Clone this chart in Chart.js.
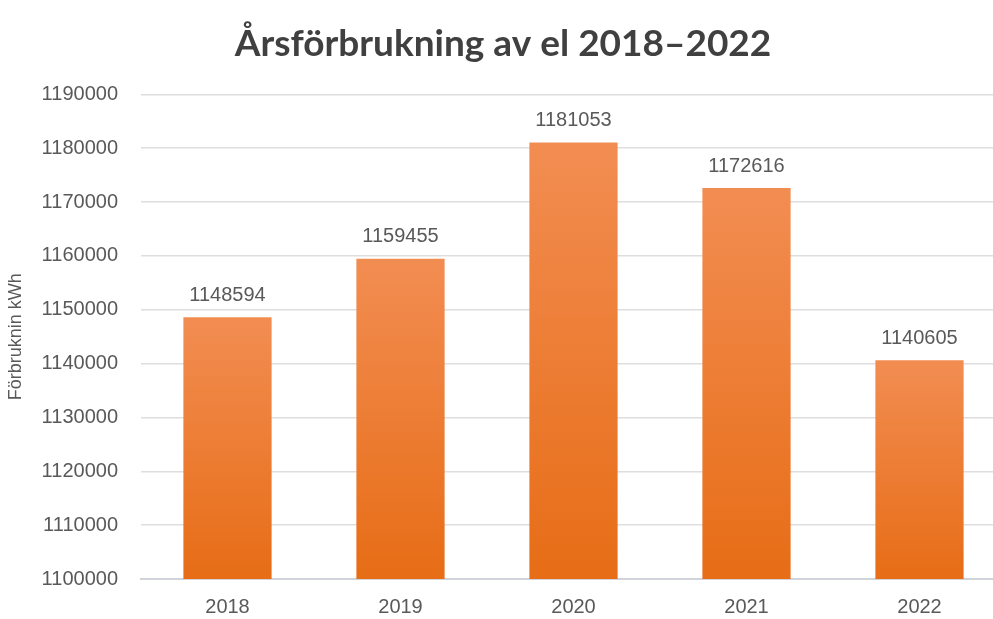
<!DOCTYPE html>
<html>
<head>
<meta charset="utf-8">
<script src="https://cdn.jsdelivr.net/npm/chart.js@4/dist/chart.umd.min.js"></script>
<style>
  html, body { margin: 0; padding: 0; background: #fff; overflow: hidden; }
  #wrap { width: 1006px; height: 619px; }
</style>
</head>
<body>
<div id="wrap"><canvas id="elChart"></canvas></div>
<script>
const years = ["2018", "2019", "2020", "2021", "2022"];
const consumption = [1148594, 1159455, 1181053, 1172616, 1140605];
const yMin = 1100000;
const yMax = 1190000;
const yStep = 10000;

const textGray = "#595959";
const font = "'Liberation Sans', Arial, sans-serif";

// gradient per bar, lighter at the top
function barFill(context) {
  const chart = context.chart;
  if (!chart.chartArea || context.raw === undefined) return "#EE7D35";
  const y = chart.scales.y;
  const top = y.getPixelForValue(context.raw);
  const bottom = y.getPixelForValue(yMin);
  const g = chart.ctx.createLinearGradient(0, top, 0, bottom);
  g.addColorStop(0, "#F28D52");
  g.addColorStop(1, "#E76D16");
  return g;
}

// value text above each bar
const valueLabels = {
  id: "valueLabels",
  afterDatasetsDraw(chart) {
    const ctx = chart.ctx;
    const meta = chart.getDatasetMeta(0);
    ctx.save();
    ctx.font = "20px " + font;
    ctx.fillStyle = textGray;
    ctx.textAlign = "center";
    ctx.textBaseline = "middle";
    meta.data.forEach((bar, i) => {
      ctx.fillText(String(consumption[i]), bar.x, bar.y - 22);
    });
    ctx.restore();
  }
};

const data1 = {
  labels: years,
  datasets: [
    {
      data: consumption,
      backgroundColor: barFill,
      borderWidth: 0,
      categoryPercentage: 1,
      barPercentage: 0.51,
    },
  ],
};

const config1 = {
  type: "bar",
  data: data1,
  plugins: [valueLabels],
  options: {
    responsive: true,
    maintainAspectRatio: false,
    animation: false,
    layout: { padding: 0 },
    plugins: {
      legend: { display: false },
      tooltip: { enabled: false },
      title: {
        display: true,
        text: "Årsförbrukning av el 2018–2022",
        color: "#404040",
        font: { family: "Lato, sans-serif", size: 37, weight: "bold" },
        padding: { top: 22, bottom: 28 },
      },
    },
    scales: {
      x: {
        afterFit(scale) { scale.height = 40; },
        grid: { display: false, drawTicks: false },
        border: { display: true, color: "#D0D4DA", width: 2 },
        ticks: { color: textGray, font: { family: font, size: 20 }, padding: 16 },
      },
      y: {
        min: yMin,
        max: yMax,
        afterFit(scale) { scale.width = 141; },
        grid: { color: "#DEDEDE", lineWidth: 1.5, drawTicks: false },
        border: { display: false },
        ticks: {
          stepSize: yStep,
          color: textGray,
          font: { family: font, size: 20 },
          padding: 23,
          callback: (v) => String(v),
        },
        title: {
          display: true,
          text: "Förbruknin kWh",
          color: textGray,
          font: { family: font, size: 18 },
          padding: { top: 5, bottom: 0 },
        },
      },
    },
  },
};

const myChart1 = new Chart(document.getElementById("elChart"), config1);
</script>
</body>
</html>
